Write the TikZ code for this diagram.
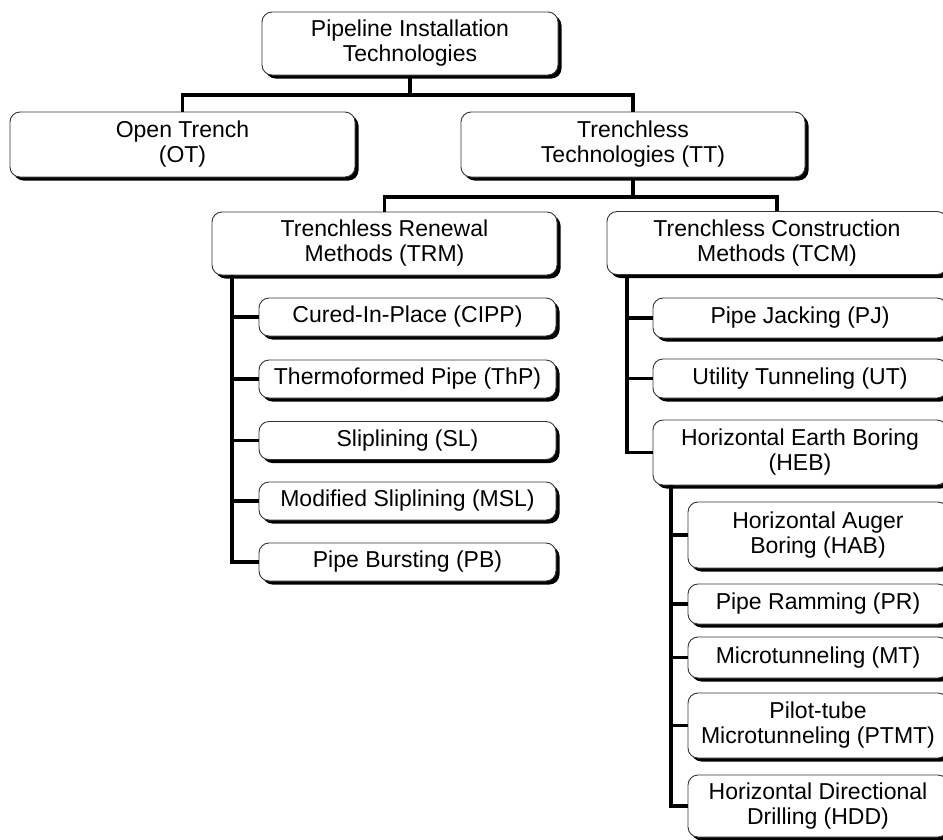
\documentclass[tikz,border=0pt]{standalone}
\usepackage{fontspec}
\setmainfont{Liberation Sans}
\usetikzlibrary{shadows}
\begin{document}
\begin{tikzpicture}[x=1pt,y=-1pt,
  box/.style={draw=black!80, line width=0.9pt, fill=white, rounded corners=10pt,
    inner sep=0pt, align=center, font=\fontsize{23}{25}\selectfont,
    drop shadow={shadow xshift=3.5pt, shadow yshift=-3.5pt, opacity=1, fill=black}},
  conn/.style={line width=3.2pt, line join=miter}]
\path[use as bounding box, clip] (0,0) rectangle (943,839);
\fill[white] (0,0) rectangle (943,839);
% level 0
\node[box, minimum width=296pt, minimum height=63pt] (root) at (410,43.5) {Pipeline Installation\\Technologies};
% level 1
\node[box, minimum width=345pt, minimum height=65pt] (OT) at (182.5,144.5) {Open Trench\\(OT)};
\node[box, minimum width=344pt, minimum height=65pt] (TT) at (633,144.5) {Trenchless\\Technologies (TT)};
% level 2
\node[box, minimum width=345pt, minimum height=63pt] (TRM) at (384.5,243.5) {Trenchless Renewal\\Methods (TRM)};
\node[box, minimum width=340pt, minimum height=63pt] (TCM) at (777,243) {Trenchless Construction\\Methods (TCM)};
% TRM children
\node[box, minimum width=297pt, minimum height=38pt] (CIPP) at (407.5,317) {Cured-In-Place (CIPP)};
\node[box, minimum width=297pt, minimum height=38pt] (ThP) at (407.5,379) {Thermoformed Pipe (ThP)};
\node[box, minimum width=297pt, minimum height=38pt] (SL) at (407.5,440.5) {Sliplining (SL)};
\node[box, minimum width=297pt, minimum height=38pt] (MSL) at (407.5,501) {Modified Sliplining (MSL)};
\node[box, minimum width=297pt, minimum height=38pt] (PB) at (407.5,562) {Pipe Bursting (PB)};
% TCM children
\node[box, minimum width=294pt, minimum height=40pt] (PJ) at (800,318) {Pipe Jacking (PJ)};
\node[box, minimum width=294pt, minimum height=39pt] (UT) at (800,378.5) {Utility Tunneling (UT)};
\node[box, minimum width=294pt, minimum height=65pt] (HEB) at (800,452.5) {Horizontal Earth Boring\\(HEB)};
% HEB children
\node[box, minimum width=260pt, minimum height=66pt] (HAB) at (818,535) {Horizontal Auger\\Boring (HAB)};
\node[box, minimum width=260pt, minimum height=40pt] (PR) at (818,604) {Pipe Ramming (PR)};
\node[box, minimum width=260pt, minimum height=41pt] (MT) at (818,657.5) {Microtunneling (MT)};
\node[box, minimum width=260pt, minimum height=65pt] (PTMT) at (818,725.5) {Pilot-tube\\Microtunneling (PTMT)};
\node[box, minimum width=260pt, minimum height=62pt] (HDD) at (818,806) {Horizontal Directional\\Drilling (HDD)};
% helper coordinates
\coordinate (bar1) at (0,95);
\coordinate (bar2) at (0,197);
\coordinate (trmt) at (232,0);
\coordinate (tcmt) at (627,0);
\coordinate (hebt) at (671,0);
% connectors
\draw[conn] (root.south) ++(0,3) -- (root.south |- bar1);
\draw[conn] (OT.north) |- (TT.north |- bar1) -- (TT.north);
\draw[conn] (TT.south) ++(0,3) -- (TT.south |- bar2);
\draw[conn] (TRM.north) |- (TCM.north |- bar2) -- (TCM.north);
% TRM trunk
\draw[conn] (trmt |- TRM.south) |- (PB.west);
\foreach \c in {CIPP,ThP,SL,MSL} \draw[conn] (trmt |- \c.west) -- (\c.west);
% TCM trunk
\draw[conn] (tcmt |- TCM.south) |- (HEB.west);
\foreach \c in {PJ,UT} \draw[conn] (tcmt |- \c.west) -- (\c.west);
% HEB trunk
\draw[conn] (hebt |- HEB.south) |- (HDD.west);
\foreach \c in {HAB,PR,MT,PTMT} \draw[conn] (hebt |- \c.west) -- (\c.west);
\end{tikzpicture}
\end{document}
